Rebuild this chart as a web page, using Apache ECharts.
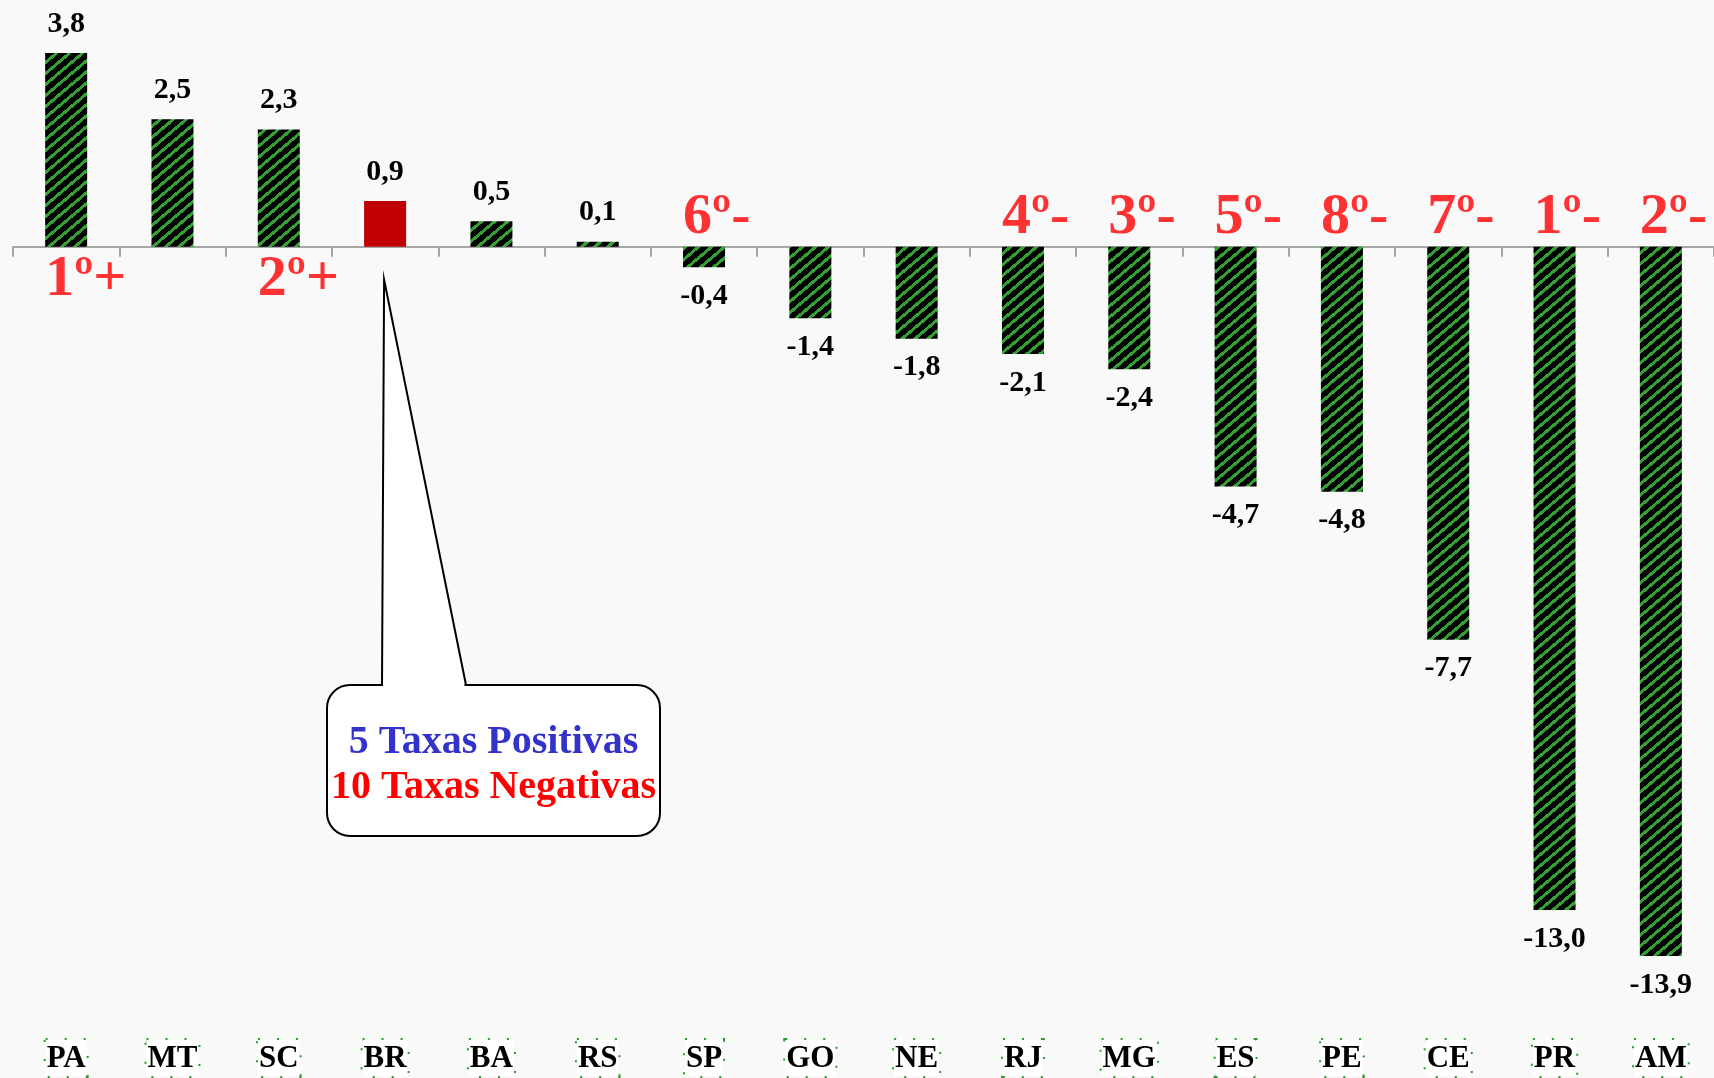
<!DOCTYPE html>
<html>
<head>
<meta charset="utf-8">
<script src="https://cdn.jsdelivr.net/npm/echarts@6/dist/echarts.min.js"></script>
<style>
    html, body { margin: 0; padding: 0; background: #F9F9F9; }
    #chart { width: 1714px; height: 1078px; }
</style>
</head>
<body>
<div id="chart"></div>
<script>
// dados do gráfico
let categories = ['PA', 'MT', 'SC', 'BR', 'BA', 'RS', 'SP', 'GO', 'NE', 'RJ', 'MG', 'ES', 'PE', 'CE', 'PR', 'AM'];
let values = [3.8, 2.5, 2.3, 0.9, 0.5, 0.1, -0.4, -1.4, -1.8, -2.1, -2.4, -4.7, -4.8, -7.7, -13.0, -13.9];
let ranks = ['1º+', '', '2º+', '', '', '', '6º-', '', '', '4º-', '3º-', '5º-', '8º-', '7º-', '1º-', '2º-'];
let calloutLines = ['5 Taxas Positivas', '10 Taxas Negativas'];

// hachura verde sobre preto (pixels sem suavização)
function stripePattern() {
    let w = 13, h = 11;
    let c = document.createElement('canvas');
    c.width = w; c.height = h;
    let ctx = c.getContext('2d');
    let img = ctx.createImageData(w, h);
    for (let y = 0; y < h; y++) {
        for (let x = 0; x < w; x++) {
            let p = ((x + 0.5) / w + (y + 0.5) / h) % 1;
            let green = p < 0.36;
            let i = (y * w + x) * 4;
            img.data[i] = green ? 52 : 0;
            img.data[i + 1] = green ? 160 : 0;
            img.data[i + 2] = green ? 52 : 0;
            img.data[i + 3] = 255;
        }
    }
    ctx.putImageData(img, 0, 0);
    return c;
}
let stripes = { image: stripePattern(), repeat: 'repeat' };

let serif = '"Liberation Serif", "DejaVu Serif", serif';

let barData = values.map(function (v, i) {
    return {
        value: v,
        itemStyle: { color: categories[i] === 'BR' ? '#C00000' : stripes },
        label: { position: v >= 0 ? 'top' : 'bottom' }
    };
});

let rankData = ranks.map(function (r) {
    if (!r) return '-';
    let plus = r.indexOf('+') >= 0;
    return {
        value: 0,
        label: { formatter: r, offset: plus ? [-21, 33] : [-21, -29] }
    };
});

let option = {
    backgroundColor: '#F9F9F9',
    animation: false,
    grid: { left: 13, top: 2, width: 1707, bottom: 54, containLabel: false },
    xAxis: [
        {
            type: 'category',
            data: categories,
            axisLine: { onZero: true, lineStyle: { color: '#A6A6A6', width: 2 } },
            axisTick: { show: true, length: 10, lineStyle: { color: '#A6A6A6', width: 2 } },
            axisLabel: { show: false }
        },
        {
            type: 'category',
            data: categories,
            position: 'bottom',
            axisLine: { show: false },
            axisTick: { show: false },
            axisLabel: {
                margin: 28,
                color: '#000',
                fontFamily: serif,
                fontWeight: 'bold',
                fontSize: 31,
                lineHeight: 31,
                backgroundColor: '#fff',
                borderColor: '#2e9a2e',
                borderType: [2, 17],
                borderWidth: 2,
                padding: [3, 1, 2, 1]
            }
        }
    ],
    yAxis: {
        type: 'value',
        min: -15,
        max: 4.8,
        show: false,
        splitLine: { show: false }
    },
    series: [
        {
            type: 'bar',
            data: barData,
            barWidth: 42,
            label: {
                show: true,
                distance: 14,
                color: '#000',
                fontFamily: serif,
                fontWeight: 'bold',
                fontSize: 30,
                formatter: function (p) { return p.value.toFixed(1).replace('.', ','); }
            },
            z: 2
        },
        {
            type: 'scatter',
            data: rankData,
            symbolSize: 0,
            label: {
                show: true,
                position: 'inside',
                align: 'left',
                verticalAlign: 'middle',
                color: '#FF0000',
                fontFamily: serif,
                fontWeight: 'bold',
                fontSize: 58
            },
            z: 5
        }
    ]
};

let myChart = echarts.init(document.getElementById('chart'));
myChart.setOption(option);

// balão apontando para a barra do BR
let zero = myChart.convertToPixel({ xAxisIndex: 0, yAxisIndex: 0 }, ['BR', 0]);
let apex = [zero[0] - 1, zero[1] + 33];
let box = { x: 327, y: 685, width: 333, height: 151 };
let textFont = 'bold 40px ' + serif;

myChart.setOption({
    graphic: [
        {
            type: 'rect',
            shape: { x: box.x, y: box.y, width: box.width, height: box.height, r: 23 },
            style: { fill: '#fff', stroke: '#000', lineWidth: 2 },
            z: 10
        },
        {
            type: 'polygon',
            shape: { points: [[383, box.y + 3], apex, [465, box.y + 3]] },
            style: { fill: '#fff', stroke: null },
            z: 11
        },
        {
            type: 'polyline',
            shape: { points: [[382, box.y], apex, [466, box.y]] },
            style: { fill: null, stroke: '#000', lineWidth: 2 },
            z: 12
        },
        {
            type: 'text',
            style: {
                text: calloutLines[0], x: box.x + box.width / 2, y: 743,
                textAlign: 'center', textVerticalAlign: 'middle',
                fill: '#3333CC', font: textFont
            },
            z: 13
        },
        {
            type: 'text',
            style: {
                text: calloutLines[1], x: box.x + box.width / 2, y: 788,
                textAlign: 'center', textVerticalAlign: 'middle',
                fill: '#FF0000', font: textFont
            },
            z: 13
        }
    ]
});
</script>
</body>
</html>
